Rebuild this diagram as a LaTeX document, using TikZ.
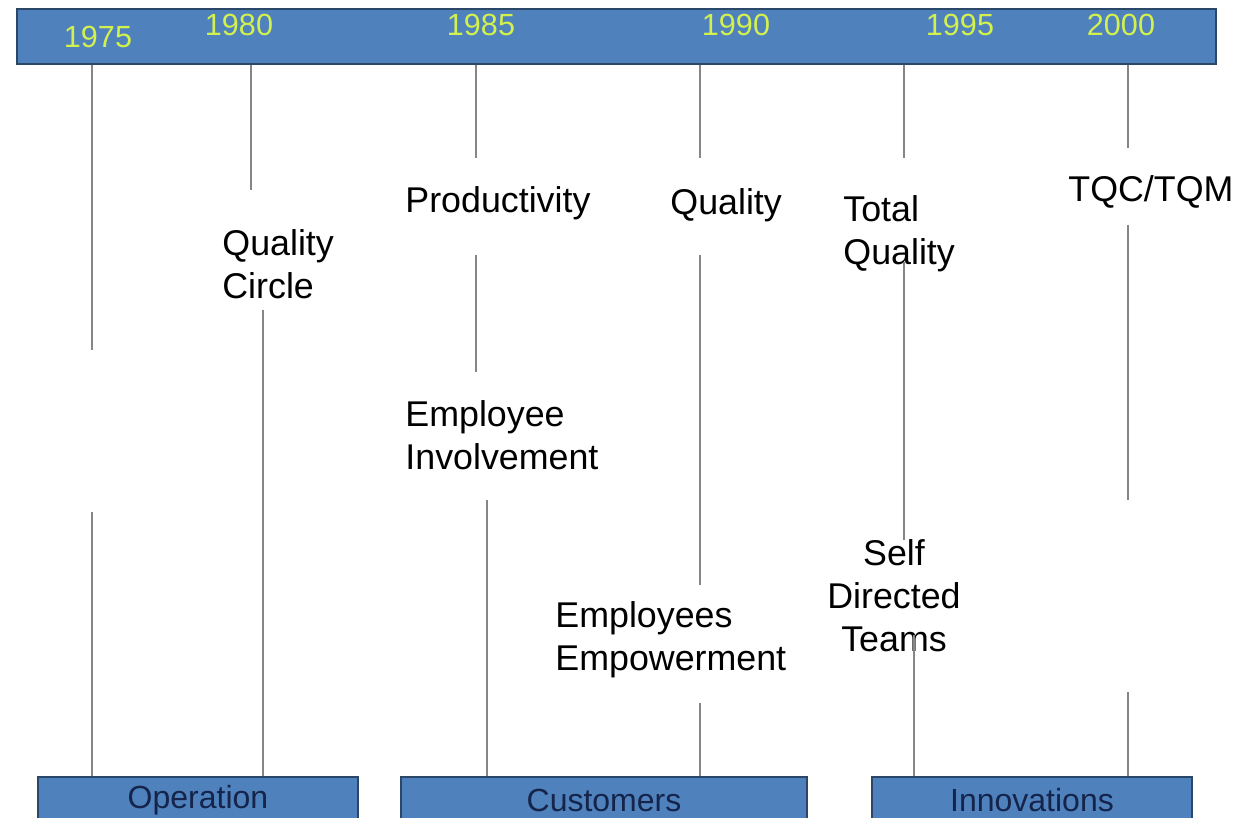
\documentclass[tikz,border=0pt]{standalone}
\usepackage{fontspec}
\setmainfont{Liberation Sans}
\begin{document}
\begin{tikzpicture}[x=0.5pt, y=-0.5pt,
  bluebox/.style={draw=col!55!black, fill=col, line width=0.8pt, inner sep=0pt},
  year/.style={text=yr, font=\fontsize{15.3}{18}\selectfont, inner sep=0pt},
  topic/.style={font=\fontsize{17.9}{21.5}\selectfont, inner sep=0pt, align=left, anchor=west},
  group/.style={bluebox, minimum height=23pt, text=navy, font=\fontsize{16}{19}\selectfont},
  tick/.style={draw=gray!95, line width=1pt}]
\definecolor{col}{HTML}{4F81BD}
\definecolor{yr}{HTML}{D2F04E}
\definecolor{navy}{HTML}{14244A}
\useasboundingbox (0,0) rectangle (1238,818);
% top bar with the years
\node[bluebox, anchor=north west, minimum width=599.5pt, minimum height=27.5pt] (bar) at (16,8) {};
\node[year] (y75) at (98,37) {1975};
\node[year] (y80) at (239,25) {1980};
\node[year] (y85) at (481,25) {1985};
\node[year] (y90) at (736,25) {1990};
\node[year] (y95) at (960,25) {1995};
\node[year] (y00) at (1121,25) {2000};
% bottom groups
\node[group, minimum width=160pt] (oper) at (198,800) {Operation};
\node[group, minimum width=203pt] (cust) at (604,800) {Customers};
\node[group, minimum width=160pt] (innov) at (1032,800) {Innovations};
% topics
\node[topic] (qc) at (222,264) {Quality\\Circle};
\node[topic] (prod) at (405,203) {Productivity};
\node[topic] (qual) at (670,205) {Quality};
\node[topic] (tq) at (843,234) {Total\\Quality};
\node[topic] (tqm) at (1068,192) {TQC/TQM};
\node[topic] (ei) at (405,435) {Employee\\Involvement};
\node[topic] (ee) at (555,640) {Employees\\Empowerment};
\node[topic, align=center, anchor=center] (sdt) at (894,596) {Self\\Directed\\Teams};
% free ends of the ticks
\coordinate (a1) at (92,350);   \coordinate (a2) at (92,512);
\coordinate (b1) at (251,190);  \coordinate (b2) at (263,310);
\coordinate (c1) at (476,158);  \coordinate (c2) at (476,255);
\coordinate (c3) at (476,372);  \coordinate (c4) at (487,500);
\coordinate (d1) at (700,158);  \coordinate (d2) at (700,255);
\coordinate (d3) at (700,585);  \coordinate (d4) at (700,703);
\coordinate (e1) at (904,158);  \coordinate (e2) at (904,262);
\coordinate (e3) at (904,540);  \coordinate (e4) at (914,635);
\coordinate (f1) at (1128,148); \coordinate (f2) at (1128,225);
\coordinate (f3) at (1128,500); \coordinate (f4) at (1128,692);
% ticks
\draw[tick] (a1 |- bar.south) -- (a1);
\draw[tick] (a2) -- (a2 |- oper.north);
\draw[tick] (b1 |- bar.south) -- (b1);
\draw[tick] (b2) -- (b2 |- oper.north);
\draw[tick] (c1 |- bar.south) -- (c1);
\draw[tick] (c2) -- (c3);
\draw[tick] (c4) -- (c4 |- cust.north);
\draw[tick] (d1 |- bar.south) -- (d1);
\draw[tick] (d2) -- (d3);
\draw[tick] (d4) -- (d4 |- cust.north);
\draw[tick] (e1 |- bar.south) -- (e1);
\draw[tick] (e2) -- (e3);
\draw[tick] (e4) -- (e4 |- innov.north);
\draw[tick] (f1 |- bar.south) -- (f1);
\draw[tick] (f2) -- (f3);
\draw[tick] (f4) -- (f4 |- innov.north);
\end{tikzpicture}
\end{document}
